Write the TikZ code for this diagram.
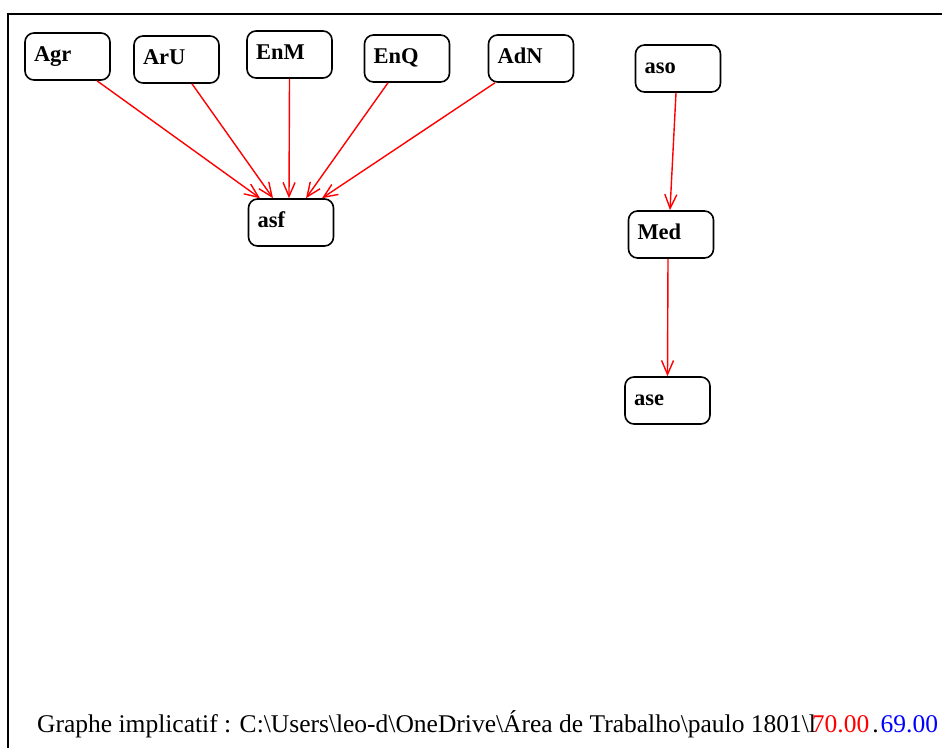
\documentclass[tikz,border=0pt]{standalone}
\usepackage{fontspec}
\setmainfont{Liberation Serif}
\usetikzlibrary{arrows.meta}
\begin{document}
\begin{tikzpicture}[x=1pt,y=-1pt,
  box/.style={draw, line width=1.6pt, rounded corners=9pt,
    minimum height=47pt, inner xsep=9pt, inner ysep=0pt,
    text width=67pt, align=left, text height=13pt, text depth=3pt,
    font=\fontsize{22.5}{22.5}\selectfont\bfseries},
  imp/.style={draw=red, line width=1.4pt,
    -{Straight Barb[length=14pt,width=12pt,line width=1.4pt]}},
  frame/.style={line width=2pt}]
\useasboundingbox (0,0) rectangle (942,747);
% outer frame (left and top edges)
\draw[frame] (8,748) -- (8,14) -- (943,14);
% variables
\node[box] (agr) at (67.5,56.5) {Agr};
\node[box] (aru) at (176.5,59.5) {ArU};
\node[box] (enm) at (289.5,54.5) {EnM};
\node[box] (enq) at (407,58.5) {EnQ};
\node[box] (adn) at (531,58.5) {AdN};
\node[box] (aso) at (678,68.5) {aso};
\node[box] (asf) at (291,222.5) {asf};
\node[box] (med) at (671,234.5) {Med};
\node[box] (ase) at (667.5,400.5) {ase};
% implications
\draw[imp] ([xshift=29.5pt]agr.south) -- ([xshift=-31pt]asf.north);
\draw[imp] ([xshift=15.5pt]aru.south) -- ([xshift=-18pt]asf.north);
\draw[imp] ([xshift=0pt]enm.south) -- ([xshift=-2pt]asf.north);
\draw[imp] ([xshift=-19pt]enq.south) -- ([xshift=15pt]asf.north);
\draw[imp] ([xshift=-36pt]adn.south) -- ([xshift=31pt]asf.north);
\draw[imp] ([xshift=-2pt]aso.south) -- ([xshift=-1pt]med.north);
\draw[imp] ([xshift=-3pt]med.south) -- ([xshift=0pt]ase.north);
% caption
\node[anchor=base west, inner sep=0pt, font=\fontsize{25.5}{25.5}\selectfont] (cap) at (37,732)
  {Graphe implicatif : C:\textbackslash Users\textbackslash leo-d\textbackslash OneDrive\textbackslash Área de Trabalho\textbackslash paulo 1801\textbackslash l\kern-4pt\textcolor{red}{70.00}\kern3pt.\kern2pt\textcolor{blue}{69.00}};
\end{tikzpicture}
\end{document}
